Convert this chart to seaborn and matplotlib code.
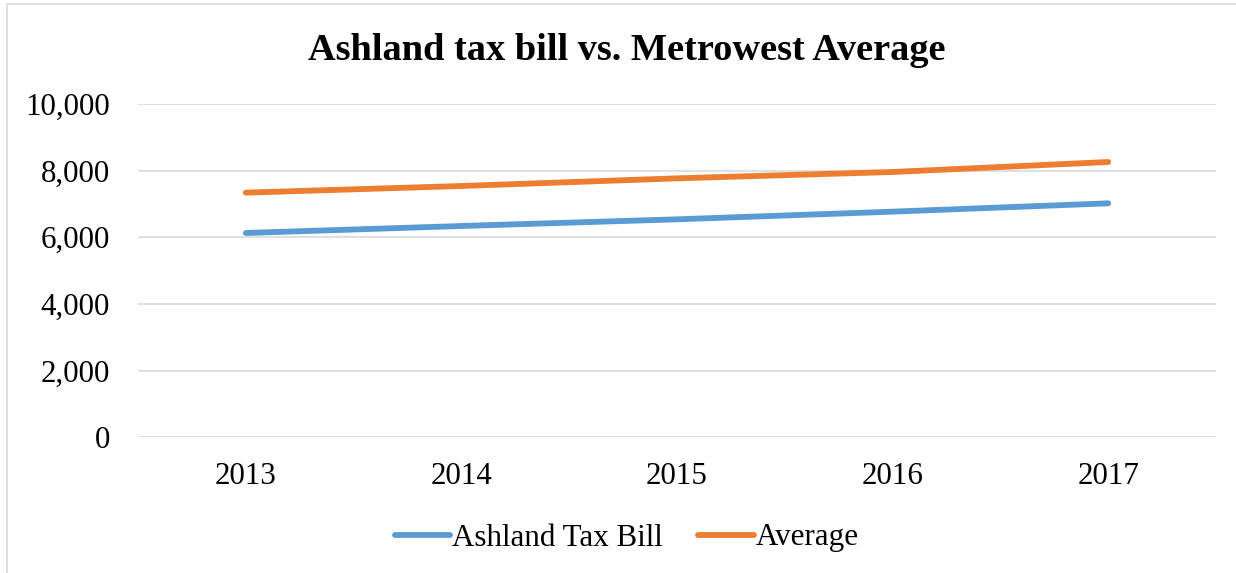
import matplotlib
matplotlib.use("Agg")
import matplotlib.pyplot as plt
import matplotlib.patches as mpatches
import seaborn as sns
import pandas as pd
from matplotlib.ticker import FuncFormatter, FixedLocator

# Annual tax bill figures
years = ["2013", "2014", "2015", "2016", "2017"]
ashland_tax_bill = [6130, 6340, 6540, 6770, 7020]
metrowest_average = [7340, 7540, 7770, 7960, 8260]
series_names = ["Ashland Tax Bill", "Average"]
y_ticks = [0, 2000, 4000, 6000, 8000, 10000]

df = pd.DataFrame({
    "Year": years * 2,
    "Value": ashland_tax_bill + metrowest_average,
    "Series": [series_names[0]] * len(years) + [series_names[1]] * len(years),
})

sns.set_theme(style="white")
plt.rcParams["font.family"] = ["Liberation Serif", "DejaVu Serif"]
plt.rcParams["text.color"] = "black"

fig = plt.figure(figsize=(12.36, 5.73), dpi=100)
ax = fig.add_axes([138 / 1236, 1 - 437.3 / 573, (1216 - 138) / 1236, (437.3 - 104) / 573])

palette = {series_names[0]: "#5B9BD5", series_names[1]: "#ED7D31"}
sns.lineplot(data=df, x="Year", y="Value", hue="Series", palette=palette,
             linewidth=4.2, ax=ax, legend=False, sort=False)
for line in ax.lines:
    line.set_solid_capstyle("round")

ax.set_xlim(-0.5, len(years) - 0.5)
ax.set_ylim(0, 10000)
ax.yaxis.set_major_locator(FixedLocator(y_ticks))
ax.yaxis.set_major_formatter(FuncFormatter(lambda v, p: f"{int(v):,}"))
ax.grid(axis="y", color="#D9D9D9", linewidth=1.2)
ax.grid(axis="x", visible=False)
ax.set_axisbelow(True)
for s in ax.spines.values():
    s.set_visible(False)
ax.tick_params(axis="both", length=0, labelsize=22.3, colors="black")
ax.tick_params(axis="y", pad=20)
ax.tick_params(axis="x", pad=17.5)
ax.set_xlabel("")
ax.set_ylabel("")

fig.text(0.507, 1 - 50 / 573, "Ashland tax bill vs. Metrowest Average",
         ha="center", va="center", fontsize=27.6, fontweight="bold", color="black")

handles = [plt.Line2D([], [], color=palette[n], linewidth=4.2, solid_capstyle="round")
           for n in series_names]
fig.legend(handles, series_names, loc="center", bbox_to_anchor=(0.507, 1 - 538 / 573),
           ncol=2, frameon=False, fontsize=22.3, handlelength=1.8, handletextpad=0.05,
           columnspacing=1.15, labelcolor="black")

# Chart border
fig.patches.append(mpatches.Rectangle((7 / 1236, -0.1), 1.1, 1 - 4 / 573 + 0.1,
                                      transform=fig.transFigure, fill=False,
                                      edgecolor="#D9D9D9", linewidth=1.2))

fig.savefig("out.png", dpi=100, facecolor="white")
